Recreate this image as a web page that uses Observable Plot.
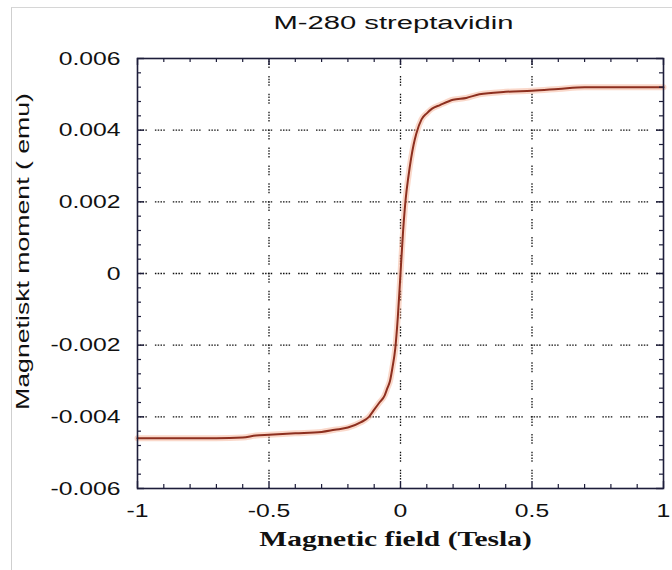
<!DOCTYPE html>
<html>
<head>
<meta charset="utf-8">
<script src="https://cdn.jsdelivr.net/npm/d3@7"></script>
<script src="https://cdn.jsdelivr.net/npm/@observablehq/plot@0.6"></script>
<style>
  html, body { margin: 0; padding: 0; background: #fff; }
  #page { position: relative; width: 672px; height: 570px; overflow: hidden; background: #fff; }
  #edge { position: absolute; left: 11px; top: 7px; right: -2px; bottom: -2px;
          border-left: 1px solid #cfcfcf; border-top: 1px solid #d6d6d6; pointer-events: none; }
  #chart { position: absolute; left: 0; top: 0; }
</style>
</head>
<body>
<div id="page"><div id="edge"></div><div id="chart"></div></div>
<script>
// Magnetisation curve of M-280 streptavidin beads
const fieldTesla = [-1, -0.9, -0.8, -0.7, -0.6, -0.55, -0.5, -0.4, -0.3, -0.25, -0.2, -0.15, -0.12, -0.1,
  -0.08, -0.06, -0.05, -0.04, -0.03, -0.02, -0.01, 0, 0.01, 0.02, 0.03, 0.04, 0.05, 0.06, 0.08, 0.1,
  0.12, 0.15, 0.2, 0.25, 0.3, 0.4, 0.5, 0.6, 0.7, 0.8, 0.9, 1];
const momentEmu = [-0.0046, -0.0046, -0.0046, -0.0046, -0.00458, -0.00452, -0.0045, -0.00446, -0.00442, -0.00436,
  -0.0043, -0.00415, -0.004, -0.0038, -0.0036, -0.0034, -0.0032, -0.003, -0.0026, -0.0021, -0.0012, 0,
  0.0012, 0.0021, 0.0027, 0.0032, 0.0036, 0.0039, 0.0043, 0.00447, 0.0046, 0.0047, 0.00485, 0.0049,
  0.005, 0.00507, 0.0051, 0.00515, 0.0052, 0.0052, 0.0052, 0.0052];

const xTicks = [-1, -0.5, 0, 0.5, 1];
const xTickLabels = ["-1", "-0.5", "0", "0.5", "1"];
const xMinor = [-0.9, -0.8, -0.7, -0.6, -0.4, -0.3, -0.2, -0.1, 0.1, 0.2, 0.3, 0.4, 0.6, 0.7, 0.8, 0.9];
const xGrid = [-0.5, 0, 0.5];

const yTicks = [-0.006, -0.004, -0.002, 0, 0.002, 0.004, 0.006];
const yTickLabels = ["-0.006", "-0.004", "-0.002", "0", "0.002", "0.004", "0.006"];
const yMinor = [-0.0056, -0.0052, -0.0048, -0.0044, -0.0036, -0.0032, -0.0028, -0.0024,
  -0.0016, -0.0012, -0.0008, -0.0004, 0.0004, 0.0008, 0.0012, 0.0016,
  0.0024, 0.0028, 0.0032, 0.0036, 0.0044, 0.0048, 0.0052, 0.0056];
const yGrid = [-0.004, -0.002, 0, 0.002, 0.004];

const titleText = "M-280 streptavidin";
const xTitle = "Magnetic field (Tesla)";
const yTitle = "Magnetiskt moment ( emu)";

const curve = fieldTesla.map((x, i) => ({x, y: momentEmu[i]}));

const W = 672, H = 570, mL = 137, mR = 9, mT = 58, mB = 82;
const plotW = W - mL - mR, plotH = H - mT - mB;
const ink = "#1d1d3a";
const dots = "1.5,1.3,1.5,1.3,1.5,1.3,1.5,8";

const labelFor = (vals, labels) => d => labels[vals.findIndex(v => Math.abs(v - d) < 1e-9)];

const chart = Plot.plot({
  width: W, height: H,
  marginLeft: mL, marginRight: mR, marginTop: mT, marginBottom: mB,
  x: {domain: [-1, 1]},
  y: {domain: [-0.006, 0.006]},
  style: {fontFamily: "'Liberation Sans', Arial, sans-serif", fontSize: "19px", color: "#111", background: "transparent"},
  marks: [
    Plot.gridX(xGrid, {stroke: "#111", strokeOpacity: 1, strokeWidth: 1.3, strokeDasharray: dots}),
    Plot.gridY(yGrid, {stroke: "#111", strokeOpacity: 1, strokeWidth: 1.3, strokeDasharray: dots}),
    // soft halo under the trace
    Plot.line(curve, {x: "x", y: "y", stroke: "#f4a98a", strokeWidth: 6, strokeOpacity: 0.45, curve: "monotone-x"}),
    Plot.line(curve, {x: "x", y: "y", stroke: "#8d2f1f", strokeWidth: 2, curve: "monotone-x"}),
    // inward tick marks on all four sides
    Plot.tickX(xTicks, {x: d => d, insetTop: plotH - 7, stroke: ink, strokeWidth: 1.4}),
    Plot.tickX(xTicks, {x: d => d, insetBottom: plotH - 7, stroke: ink, strokeWidth: 1.4}),
    Plot.tickX(xMinor, {x: d => d, insetTop: plotH - 4, stroke: ink, strokeWidth: 1.2}),
    Plot.tickX(xMinor, {x: d => d, insetBottom: plotH - 4, stroke: ink, strokeWidth: 1.2}),
    Plot.tickY(yTicks, {y: d => d, insetRight: plotW - 7, stroke: ink, strokeWidth: 1.4}),
    Plot.tickY(yTicks, {y: d => d, insetLeft: plotW - 7, stroke: ink, strokeWidth: 1.4}),
    Plot.tickY(yMinor, {y: d => d, insetRight: plotW - 4, stroke: ink, strokeWidth: 1.2}),
    Plot.tickY(yMinor, {y: d => d, insetLeft: plotW - 4, stroke: ink, strokeWidth: 1.2}),
    Plot.axisX({ticks: xTicks, tickSize: 0, tickPadding: 15, tickFormat: labelFor(xTicks, xTickLabels), label: null, fontSize: 19, fill: "#111"}),
    Plot.axisY({ticks: yTicks, tickSize: 0, tickPadding: 17, tickFormat: labelFor(yTicks, yTickLabels), label: null, fontSize: 19, fill: "#111"}),
    Plot.frame({stroke: ink, strokeWidth: 1.6}),
    Plot.text([titleText], {frameAnchor: "top", text: d => d, dy: -30, dx: -7, lineAnchor: "bottom",
      fontSize: 18, fill: "#111"}),
    Plot.text([xTitle], {frameAnchor: "bottom", text: d => d, dy: 57, dx: -5, lineAnchor: "bottom",
      fontSize: 22, fontWeight: "bold", fontFamily: "'Liberation Serif', 'Times New Roman', serif", fill: "#111"}),
    Plot.text([yTitle], {frameAnchor: "left", text: d => d, dx: -109, dy: -22, rotate: -90, lineAnchor: "bottom",
      textAnchor: "middle", fontSize: 18, fill: "#111"})
  ]
});

document.getElementById("chart").appendChild(chart);

// The lettering is set wide: stretch every label along its baseline
const stretch = {[titleText]: 1.62, [xTitle]: 1.34, [yTitle]: 1.48};
chart.querySelectorAll("text").forEach(t => {
  const s = t.textContent;
  const f = stretch[s] || 1.3;
  const w = t.getComputedTextLength();
  if (w > 0) {
    t.setAttribute("textLength", (w * f).toFixed(1));
    t.setAttribute("lengthAdjust", "spacingAndGlyphs");
  }
});
</script>
</body>
</html>
